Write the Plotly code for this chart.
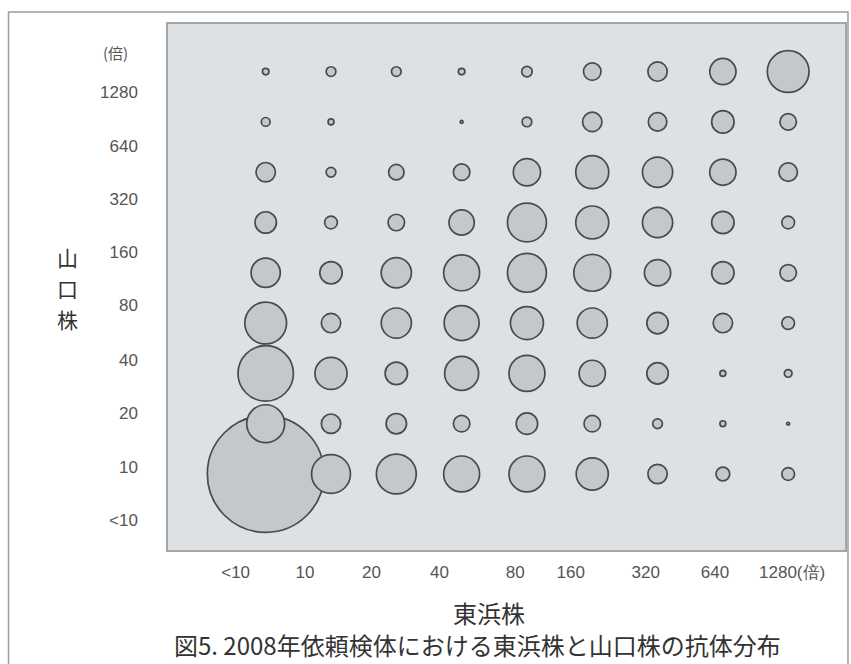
import plotly.graph_objects as go

# Antibody titer classes (same scale on both axes)
titers = ["<10", "10", "20", "40", "80", "160", "320", "640", "1280"]
x_tick_text = ["<10", "10", "20", "40", "80", "160", "320", "640", "1280(倍)"]
y_tick_text = titers

# Specimen counts: one list per Higashihama-strain titer (x),
# each listing Yamaguchi-strain titers (y) from <10 up to 1280.
higashi_lt10 = [1600, 169, 361, 205, 100, 54, 44, 9, 5]
higashi_10 = [178, 44, 121, 44, 59, 19, 11, 4, 11]
higashi_20 = [187, 49, 59, 107, 107, 32, 28, 0, 11]
higashi_40 = [152, 32, 136, 144, 152, 75, 32, 1, 5]
higashi_80 = [152, 54, 152, 128, 178, 178, 87, 11, 13]
higashi_160 = [121, 32, 81, 107, 160, 128, 128, 44, 36]
higashi_320 = [44, 11, 54, 54, 81, 107, 107, 40, 44]
higashi_640 = [22, 4, 4, 44, 59, 59, 81, 59, 81]
higashi_1280 = [19, 1, 7, 19, 32, 19, 40, 32, 205]

columns = [higashi_lt10, higashi_10, higashi_20, higashi_40, higashi_80,
           higashi_160, higashi_320, higashi_640, higashi_1280]

xs, ys, counts = [], [], []
for xi, col in enumerate(columns):
    for yi, n in enumerate(col):
        if n > 0:
            xs.append(xi)
            ys.append(yi)
            counts.append(n)

fig = go.Figure()
fig.add_trace(go.Scatter(
    x=xs, y=ys, mode="markers",
    marker=dict(
        size=counts, sizemode="area", sizeref=0.235,
        color="#c4c8ca", opacity=1,
        line=dict(color="#4a4a4a", width=1.7),
    ),
    hovertemplate="東浜株 %{x}<br>山口株 %{y}<br>%{marker.size}<extra></extra>",
))

# label placement relative to the category centres
x_label_shift = [-0.46, -0.40, -0.38, -0.34, -0.18, -0.33, -0.18, -0.12, 0.06]
y_label_shift = [-0.915, -0.861, -0.787, -0.734, -0.64, -0.586, -0.533, -0.48, -0.406]

tick_font = dict(family="Liberation Sans, Arial, sans-serif", size=17, color="#555555")
jp_font = "Noto Sans CJK JP, sans-serif"

# vertical y-axis title, one character per line
y_title_chars = ["山", "口", "株"]
y_title_annotations = [
    dict(text=ch, xref="paper", yref="paper", x=-0.1487, y=0.557 - 0.059 * k,
         showarrow=False, font=dict(family=jp_font, size=21, color="#333333"),
         xanchor="center", yanchor="middle")
    for k, ch in enumerate(y_title_chars)
]

fig.update_layout(
    width=851, height=664,
    margin=dict(l=168, r=4, t=24, b=114),
    paper_bgcolor="white",
    plot_bgcolor="#dde1e3",
    showlegend=False,
    xaxis=dict(
        range=[-1.496, 8.87],
        tickmode="array",
        tickvals=[i + s for i, s in enumerate(x_label_shift)],
        ticktext=x_tick_text,
        tickfont=tick_font,
        ticks="", ticklabelstandoff=6,
        showgrid=False, zeroline=False,
        showline=True, mirror=True, linecolor="#a3a7a9", linewidth=1.5,
    ),
    yaxis=dict(
        range=[-1.511, 8.946],
        tickmode="array",
        tickvals=[i + s for i, s in enumerate(y_label_shift)],
        ticktext=y_tick_text,
        tickfont=tick_font,
        ticks="", ticklabelstandoff=25,
        showgrid=False, zeroline=False,
        showline=True, mirror=True, linecolor="#a3a7a9", linewidth=1.5,
    ),
    shapes=[dict(
        type="rect", xref="paper", yref="paper",
        x0=-0.2356, x1=1.0044, y0=-0.30, y1=1.0228,
        line=dict(color="#9c9c9c", width=1.5), layer="below",
    )],
    annotations=y_title_annotations + [
        dict(text="東浜株", xref="paper", yref="paper", x=0.4742, y=-0.1179,
             showarrow=False, font=dict(family=jp_font, size=24, color="#333333"),
             xanchor="center", yanchor="middle"),
        dict(text="図5. 2008年依頼検体における東浜株と山口株の抗体分布",
             xref="paper", yref="paper", x=0.457, y=-0.1806,
             showarrow=False, font=dict(family=jp_font, size=24, color="#333333"),
             xanchor="center", yanchor="middle"),
        dict(text="(倍)", xref="paper", yref="paper", x=-0.078, y=0.945,
             showarrow=False, font=dict(family=jp_font, size=15, color="#555555"),
             xanchor="center", yanchor="middle"),
    ],
)

fig.write_html("out.html")
